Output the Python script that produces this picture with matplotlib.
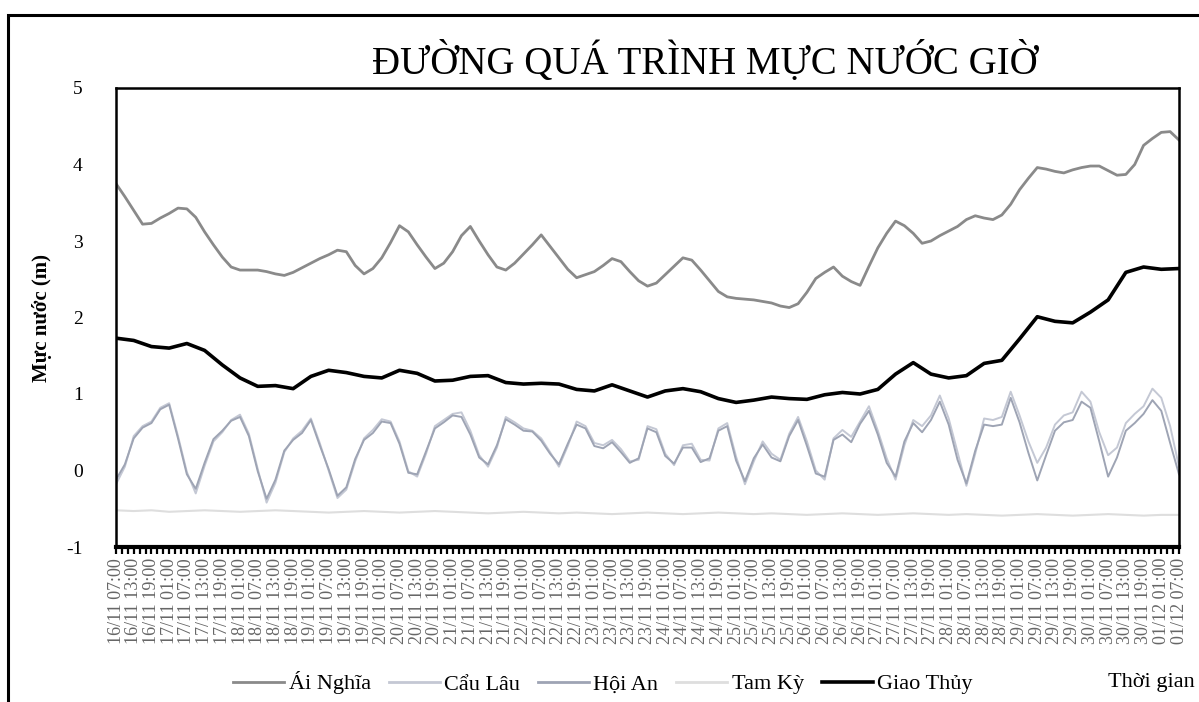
import numpy as np
import pandas as pd
import matplotlib
matplotlib.use("Agg")
import matplotlib.pyplot as plt
from matplotlib.lines import Line2D
from matplotlib.patches import Rectangle

plt.rcParams['font.family'] = ['Liberation Serif', 'DejaVu Serif']

title = "ĐƯỜNG QUÁ TRÌNH MỰC NƯỚC GIỜ"
ylabel = "Mực nước (m)"
xlabel = "Thời gian"
series_names = ["Ái Nghĩa", "Cẩu Lâu", "Hội An", "Tam Kỳ", "Giao Thủy"]

# time axis labels every 6 hours, 16/11 07:00 -> 01/12 07:00
tick_labels = list(pd.date_range("2020-11-16 07:00", "2020-12-01 07:00", freq="6h").strftime("%d/%m %H:%M"))

# 3-hourly series
ai_nghia = [3.75, 3.58, 3.40, 3.22, 3.23, 3.30, 3.36, 3.43, 3.42, 3.31,
            3.12, 2.95, 2.79, 2.66, 2.62, 2.62, 2.62, 2.60, 2.57, 2.55,
            2.59, 2.65, 2.71, 2.77, 2.82, 2.88, 2.86, 2.68, 2.57, 2.64,
            2.78, 2.98, 3.20, 3.12, 2.95, 2.79, 2.64, 2.71, 2.86, 3.07,
            3.19, 3.00, 2.82, 2.66, 2.62, 2.71, 2.83, 2.95, 3.08, 2.93,
            2.78, 2.63, 2.52, 2.56, 2.60, 2.68, 2.77, 2.73, 2.60, 2.48,
            2.41, 2.45, 2.56, 2.67, 2.78, 2.75, 2.62, 2.48, 2.34, 2.27,
            2.25, 2.24, 2.23, 2.21, 2.19, 2.15, 2.13, 2.18, 2.33, 2.51,
            2.59, 2.66, 2.54, 2.47, 2.42, 2.67, 2.91, 3.10, 3.26, 3.20,
            3.10, 2.97, 3.00, 3.07, 3.13, 3.19, 3.28, 3.33, 3.30, 3.28,
            3.34, 3.48, 3.67, 3.82, 3.96, 3.94, 3.91, 3.89, 3.93, 3.96,
            3.98, 3.98, 3.92, 3.86, 3.87, 4.00, 4.25, 4.34, 4.42, 4.43, 4.32]

hoi_an = [-0.12, 0.08, 0.42, 0.56, 0.62, 0.80, 0.86, 0.42, -0.05, -0.24,
          0.10, 0.41, 0.52, 0.65, 0.70, 0.45, -0.01, -0.37, -0.12, 0.26,
          0.40, 0.49, 0.66, 0.33, 0.02, -0.33, -0.22, 0.15, 0.40, 0.49,
          0.64, 0.62, 0.35, -0.03, -0.05, 0.25, 0.55, 0.63, 0.72, 0.70,
          0.47, 0.17, 0.08, 0.33, 0.67, 0.60, 0.52, 0.51, 0.39, 0.22,
          0.08, 0.35, 0.60, 0.55, 0.32, 0.29, 0.37, 0.24, 0.10, 0.16,
          0.55, 0.50, 0.19, 0.09, 0.30, 0.30, 0.11, 0.16, 0.52, 0.58,
          0.13, -0.14, 0.16, 0.34, 0.17, 0.12, 0.45, 0.66, 0.32, -0.04,
          -0.08, 0.40, 0.47, 0.37, 0.61, 0.78, 0.47, 0.10, -0.08, 0.38,
          0.62, 0.50, 0.66, 0.90, 0.60, 0.14, -0.17, 0.26, 0.60, 0.58,
          0.60, 0.95, 0.63, 0.23, -0.13, 0.20, 0.52, 0.63, 0.66, 0.90,
          0.82, 0.38, -0.08, 0.17, 0.52, 0.62, 0.74, 0.92, 0.78, 0.36, -0.05]

cau_lau = [-0.18, 0.05, 0.45, 0.58, 0.64, 0.82, 0.88, 0.45, -0.02, -0.30,
           0.06, 0.38, 0.50, 0.66, 0.73, 0.48, 0.02, -0.42, -0.16, 0.24,
           0.42, 0.52, 0.68, 0.36, 0.00, -0.36, -0.25, 0.12, 0.42, 0.53,
           0.67, 0.64, 0.38, -0.01, -0.08, 0.22, 0.58, 0.66, 0.74, 0.76,
           0.52, 0.20, 0.05, 0.30, 0.70, 0.63, 0.55, 0.52, 0.42, 0.24,
           0.05, 0.32, 0.64, 0.58, 0.36, 0.33, 0.40, 0.28, 0.12, 0.14,
           0.58, 0.54, 0.22, 0.07, 0.33, 0.35, 0.14, 0.13, 0.55, 0.62,
           0.18, -0.18, 0.12, 0.38, 0.22, 0.14, 0.48, 0.70, 0.38, 0.00,
           -0.12, 0.42, 0.53, 0.44, 0.64, 0.84, 0.52, 0.16, -0.12, 0.33,
           0.66, 0.58, 0.72, 0.98, 0.68, 0.24, -0.20, 0.22, 0.68, 0.66,
           0.70, 1.03, 0.72, 0.38, 0.10, 0.30, 0.60, 0.72, 0.76, 1.03,
           0.90, 0.50, 0.20, 0.30, 0.62, 0.74, 0.84, 1.07, 0.95, 0.58, 0.05]

# 6-hourly series
giao_thuy = [1.73, 1.70, 1.62, 1.60, 1.66, 1.57, 1.38, 1.21, 1.10, 1.11,
             1.07, 1.23, 1.31, 1.28, 1.23, 1.21, 1.31, 1.27, 1.17, 1.18,
             1.23, 1.24, 1.15, 1.13, 1.14, 1.13, 1.06, 1.04, 1.12, 1.04,
             0.96, 1.04, 1.07, 1.03, 0.94, 0.89, 0.92, 0.96, 0.94, 0.93,
             0.99, 1.02, 1.00, 1.06, 1.26, 1.41, 1.26, 1.21, 1.24, 1.40,
             1.44, 1.72, 2.01, 1.95, 1.93, 2.07, 2.23, 2.59, 2.66, 2.63, 2.64]

tam_ky = [-0.52, -0.53, -0.52, -0.54, -0.53, -0.52, -0.53, -0.54, -0.53, -0.52,
          -0.53, -0.54, -0.55, -0.54, -0.53, -0.54, -0.55, -0.54, -0.53, -0.54,
          -0.55, -0.56, -0.55, -0.54, -0.55, -0.56, -0.55, -0.56, -0.57, -0.56,
          -0.55, -0.56, -0.57, -0.56, -0.55, -0.56, -0.57, -0.56, -0.57, -0.58,
          -0.57, -0.56, -0.57, -0.58, -0.57, -0.56, -0.57, -0.58, -0.57, -0.58,
          -0.59, -0.58, -0.57, -0.58, -0.59, -0.58, -0.57, -0.58, -0.59, -0.58, -0.58]

colors = {"Ái Nghĩa": "#8a8a8a", "Cẩu Lâu": "#c4c8d4", "Hội An": "#9ea4b4",
          "Tam Kỳ": "#dedede", "Giao Thủy": "#000000"}
widths = {"Ái Nghĩa": 2.0, "Cẩu Lâu": 1.4, "Hội An": 1.4, "Tam Kỳ": 1.5, "Giao Thủy": 2.6}

h3 = np.arange(len(ai_nghia)) * 3
h6 = np.arange(len(giao_thuy)) * 6

W, H = 1199, 702
fig = plt.figure(figsize=(W / 100, H / 100), dpi=100)
ax = fig.add_axes([116 / W, 1 - 547 / H, (1179 - 116) / W, (547 - 88) / H])

ax.plot(h6, tam_ky, color=colors["Tam Kỳ"], lw=widths["Tam Kỳ"])
ax.plot(h3, cau_lau, color=colors["Cẩu Lâu"], lw=widths["Cẩu Lâu"])
ax.plot(h3, hoi_an, color=colors["Hội An"], lw=widths["Hội An"])
ax.plot(h3, ai_nghia, color=colors["Ái Nghĩa"], lw=widths["Ái Nghĩa"])
ax.plot(h6, giao_thuy, color=colors["Giao Thủy"], lw=widths["Giao Thủy"])

ax.set_xlim(0, 360)
ax.set_ylim(-1, 5)
ax.set_yticks(range(-1, 6))
ax.set_yticklabels([str(v) for v in range(-1, 6)], fontsize=14)
ax.tick_params(axis='y', length=0, pad=24)
ax.set_xticks(np.arange(0, 361, 6))
ax.set_xticklabels(tick_labels, rotation=90, fontsize=13, color="#666666")
ax.set_xticks(np.arange(0, 361, 2), minor=True)
ax.tick_params(axis='x', which='both', direction='out', length=5, width=1.6, pad=3)
for s in ax.spines.values():
    s.set_linewidth(1.8)
ax.spines['bottom'].set_linewidth(3)

ax.set_ylabel(ylabel, fontsize=15, fontweight='bold', labelpad=10)

fig.text(705 / W, 1 - 62 / H, title, fontsize=28, ha='center', va='center')

handles = [Line2D([], [], color=colors[n], lw=max(widths[n], 2.0)) for n in series_names]
fig.legend(handles, series_names, loc='center', bbox_to_anchor=(603 / W, 1 - 683 / H),
           ncol=5, frameon=False, fontsize=16, handlelength=2.3, handletextpad=0.2,
           columnspacing=0.8)
fig.text(1195 / W, 1 - 683 / H, xlabel, fontsize=16, ha='right', va='center')

fig.patches.append(Rectangle((8 / W, -0.02), 1.2, 1 - 15 / H + 0.02, transform=fig.transFigure,
                             fill=False, edgecolor='black', lw=2.2))

fig.savefig("out.png", dpi=100)
